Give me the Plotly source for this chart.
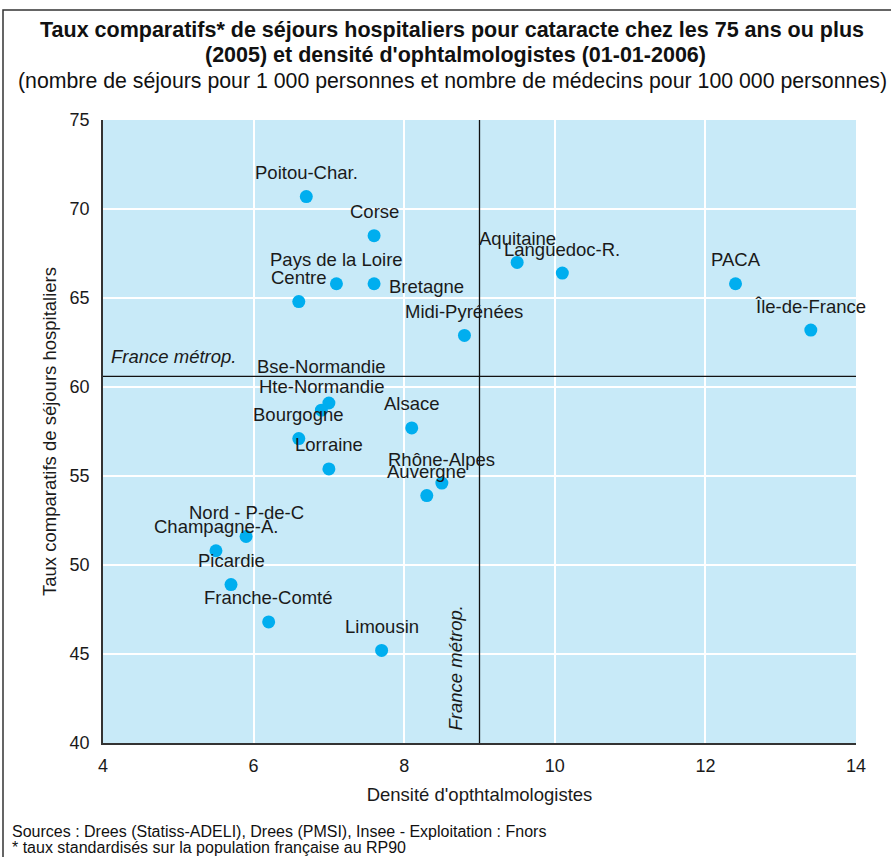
import plotly.graph_objects as go

# Régions et valeurs
regions = [
    "Poitou-Char.", "Corse", "Pays de la Loire", "Bretagne", "Centre",
    "Midi-Pyrénées", "Aquitaine", "Languedoc-R.", "PACA", "Île-de-France",
    "Bse-Normandie", "Hte-Normandie", "Bourgogne", "Lorraine", "Alsace",
    "Rhône-Alpes", "Auvergne", "Nord - P-de-C", "Champagne-A.", "Picardie",
    "Franche-Comté", "Limousin",
]
densite = [
    6.7, 7.6, 7.1, 7.6, 6.6,
    8.8, 9.5, 10.1, 12.4, 13.4,
    7.0, 6.9, 6.6, 7.0, 8.1,
    8.5, 8.3, 5.9, 5.5, 5.7,
    6.2, 7.7,
]
taux = [
    70.7, 68.5, 65.8, 65.8, 64.8,
    62.9, 67.0, 66.4, 65.8, 63.2,
    59.1, 58.7, 57.1, 55.4, 57.7,
    54.6, 53.9, 51.6, 50.8, 48.9,
    46.8, 45.2,
]
france_densite = 9.0
france_taux = 60.6

x_ticks = [4, 6, 8, 10, 12, 14]
y_ticks = [40, 45, 50, 55, 60, 65, 70, 75]

# Décalages des étiquettes (pixels) : (dx, dy, ancrage horizontal)
label_offsets = {"Bretagne": (13, -3, "left"), "Bse-Normandie": (-7, 37, "center")}
default_offset = (0, 24, "center")

FONT = "Liberation Sans, Arial, sans-serif"
TXT = "#1a1a1a"
LABEL_SIZE = 18.5

fig = go.Figure()
fig.add_trace(go.Scatter(
    x=densite, y=taux, mode="markers",
    marker=dict(size=13, color="#00AEEF", line=dict(width=0)),
    hoverinfo="text", text=regions, showlegend=False,
))

annotations = []
for name, xv, yv in zip(regions, densite, taux):
    dx, dy, anchor = label_offsets.get(name, default_offset)
    annotations.append(dict(
        x=xv, y=yv, text=name, showarrow=False,
        xanchor=anchor, yanchor="middle", xshift=dx, yshift=dy,
        font=dict(family=FONT, size=LABEL_SIZE, color=TXT),
    ))

# Libellés des moyennes France métropolitaine
annotations.append(dict(
    x=4, y=france_taux, text="<i>France métrop.</i>", showarrow=False,
    xanchor="left", yanchor="middle", xshift=6, yshift=20,
    font=dict(family=FONT, size=LABEL_SIZE, color=TXT),
))
annotations.append(dict(
    x=france_densite, y=40, text="<i>France métrop.</i>", showarrow=False,
    textangle=-90, xanchor="right", yanchor="bottom", xshift=-12, yshift=10,
    font=dict(family=FONT, size=LABEL_SIZE, color=TXT),
))

# Titre, sous-titre et sources
annotations += [
    dict(xref="paper", yref="paper", x=(452 - 103) / 753, y=(743 - 30) / 623,
         text="<b>Taux comparatifs* de séjours hospitaliers pour cataracte chez les 75 ans ou plus</b>",
         showarrow=False, xanchor="center", yanchor="middle",
         font=dict(family=FONT, size=21.5, color="#111111")),
    dict(xref="paper", yref="paper", x=(455 - 103) / 753, y=(743 - 55) / 623,
         text="<b>(2005) et densité d'ophtalmologistes (01-01-2006)</b>",
         showarrow=False, xanchor="center", yanchor="middle",
         font=dict(family=FONT, size=21.5, color="#111111")),
    dict(xref="paper", yref="paper", x=(452 - 103) / 753, y=(743 - 81) / 623,
         text="(nombre de séjours pour 1 000 personnes et nombre de médecins pour 100 000 personnes)",
         showarrow=False, xanchor="center", yanchor="middle",
         font=dict(family=FONT, size=21.3, color="#111111")),
    dict(xref="paper", yref="paper", x=(10 - 103) / 753, y=(743 - 831) / 623,
         text="Sources : Drees (Statiss-ADELI), Drees (PMSI), Insee - Exploitation : Fnors",
         showarrow=False, xanchor="left", yanchor="middle",
         font=dict(family=FONT, size=16, color="#111111")),
    dict(xref="paper", yref="paper", x=(10 - 103) / 753, y=(743 - 847) / 623,
         text="* taux standardisés sur la population française au RP90",
         showarrow=False, xanchor="left", yanchor="middle",
         font=dict(family=FONT, size=16, color="#111111")),
]

shapes = [
    # lignes de référence France métropolitaine
    dict(type="line", xref="x", yref="paper", x0=france_densite, x1=france_densite,
         y0=0, y1=1, line=dict(color="#111111", width=1.3)),
    dict(type="line", xref="paper", yref="y", x0=0, x1=1,
         y0=france_taux, y1=france_taux, line=dict(color="#111111", width=1.3)),
    # cadre
    dict(type="rect", xref="paper", yref="paper",
         x0=(3 - 103) / 753, x1=1.2, y0=-0.3, y1=(743 - 10) / 623,
         line=dict(color="#333333", width=1.5), fillcolor="rgba(0,0,0,0)", layer="below"),
]

fig.update_layout(
    width=891, height=857,
    margin=dict(l=103, r=35, t=120, b=114, pad=0),
    paper_bgcolor="white", plot_bgcolor="#C8EAF8",
    font=dict(family=FONT, color=TXT),
    annotations=annotations, shapes=shapes,
    xaxis=dict(
        range=[4, 14], tickvals=x_ticks, ticktext=[str(v) for v in x_ticks],
        showgrid=True, gridcolor="white", gridwidth=1.5, zeroline=False,
        showline=True, linecolor="#333333", linewidth=1.5,
        ticks="", ticklen=0, ticklabelstandoff=6,
        tickfont=dict(family=FONT, size=18, color=TXT),
        title=dict(text="Densité d'opthtalmologistes", standoff=13,
                   font=dict(family=FONT, size=18.5, color=TXT)),
    ),
    yaxis=dict(
        range=[40, 75], tickvals=y_ticks, ticktext=[str(v) for v in y_ticks],
        showgrid=True, gridcolor="white", gridwidth=1.5, zeroline=False,
        showline=True, linecolor="#333333", linewidth=1.5,
        ticks="", ticklen=0, ticklabelstandoff=8,
        tickfont=dict(family=FONT, size=18, color=TXT),
        title=dict(text="Taux comparatifs de séjours hospitaliers", standoff=8,
                   font=dict(family=FONT, size=18.5, color=TXT)),
    ),
)

fig.write_html("out.html")
